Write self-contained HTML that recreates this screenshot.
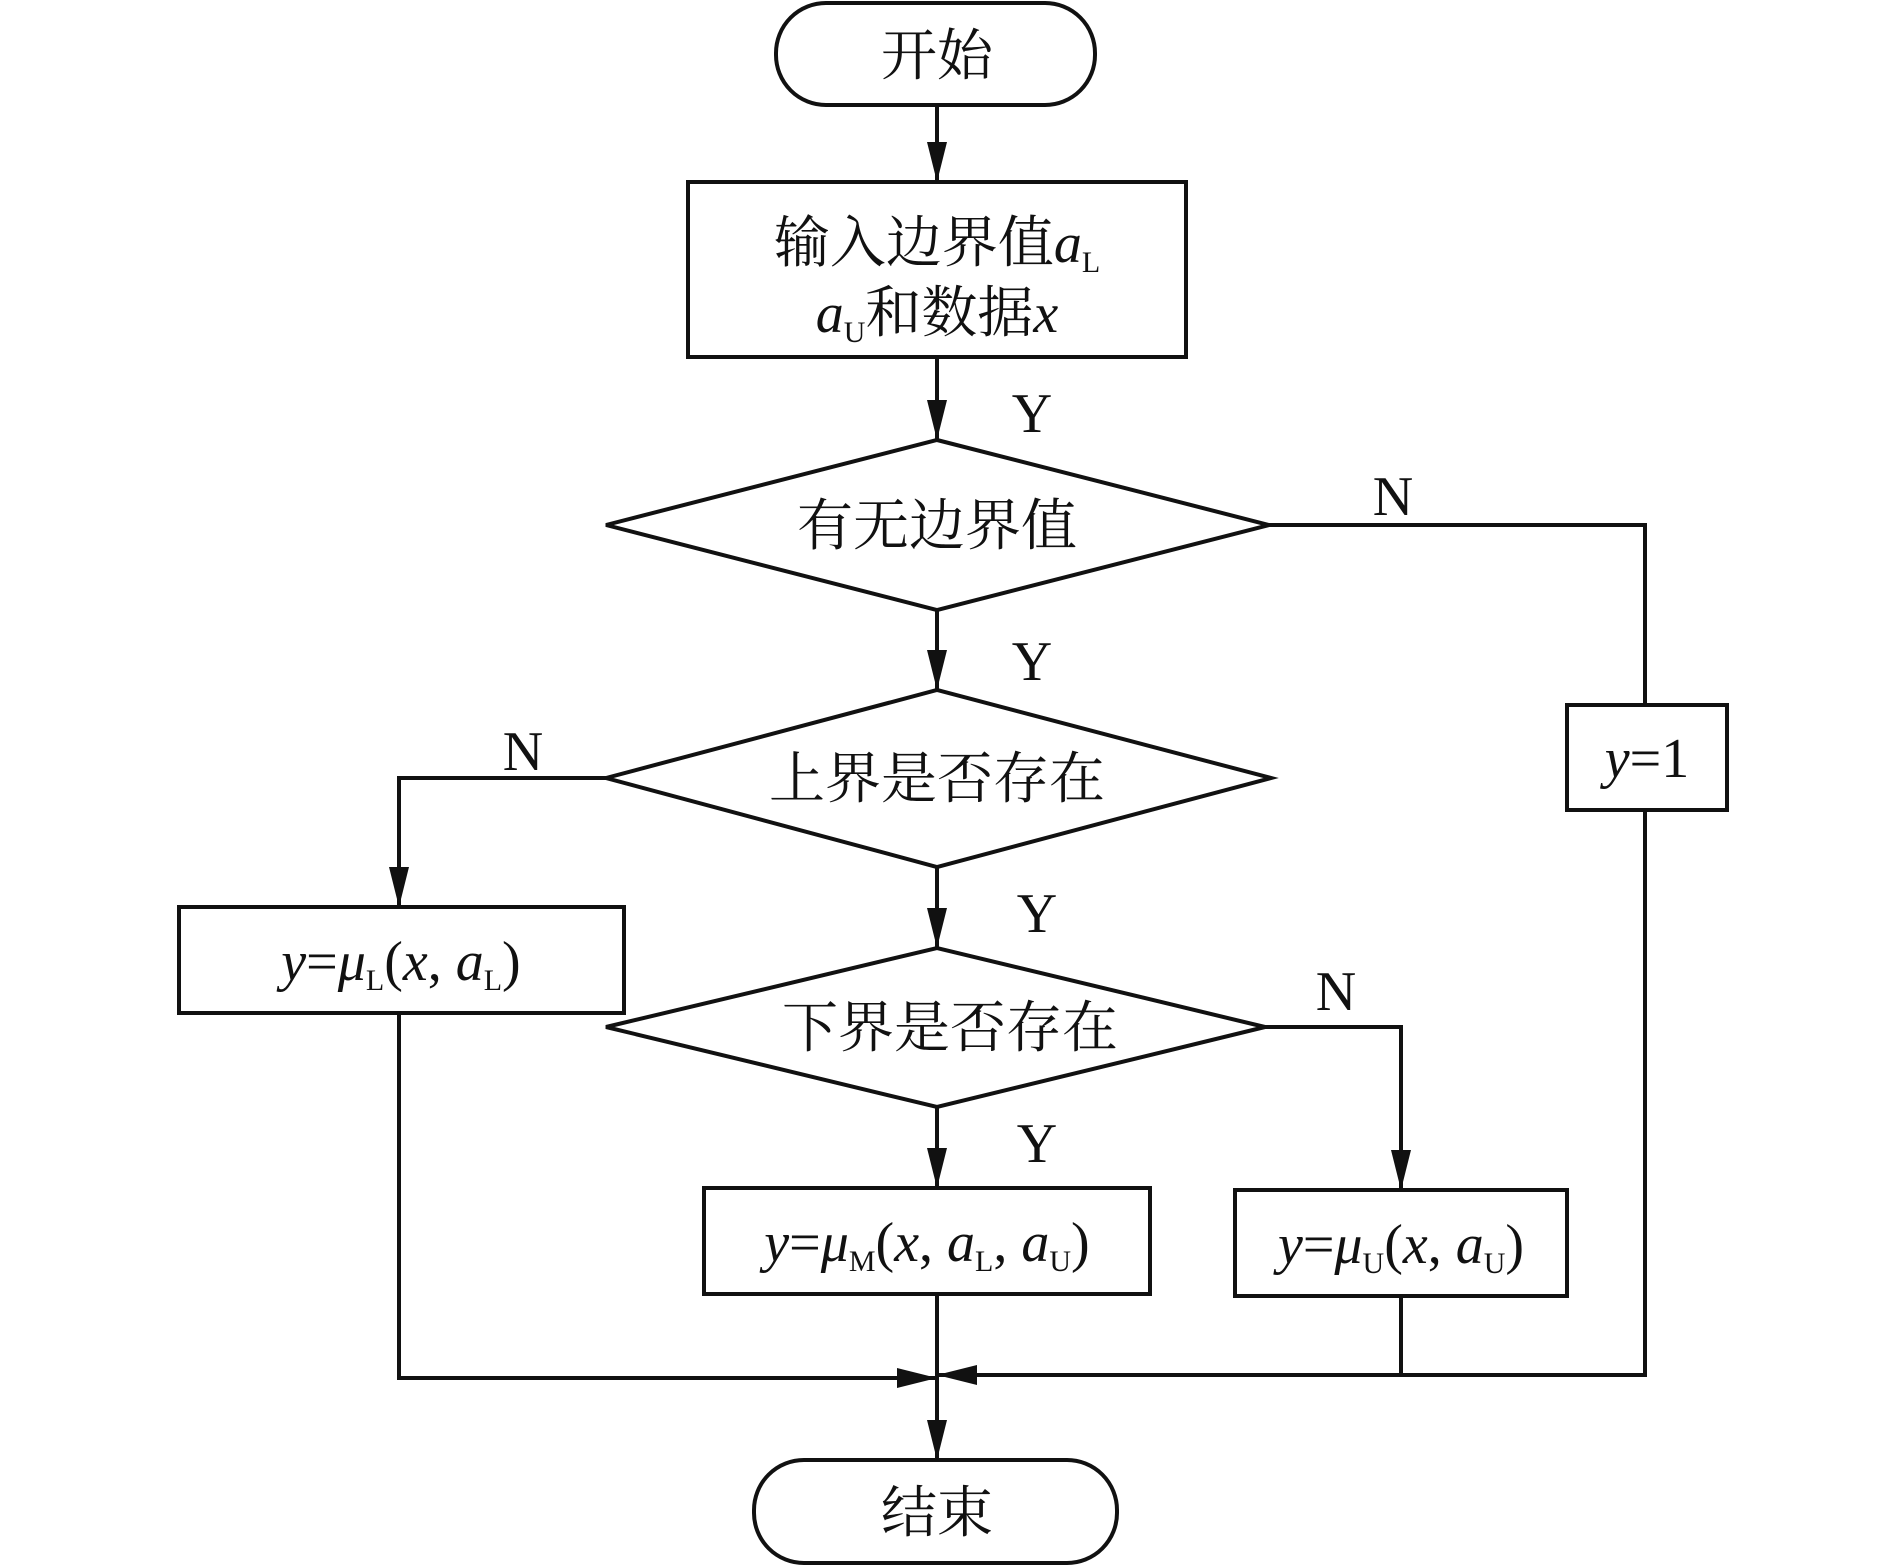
<!DOCTYPE html>
<html><head><meta charset="utf-8"><style>
html,body{margin:0;padding:0;background:#fff;}
svg{display:block;}
.c{font-family:"Liberation Serif","Noto Serif CJK SC",serif;font-size:56px;fill:#111;}
.m{font-family:"Liberation Serif",serif;font-size:56px;fill:#111;}
.i{font-style:italic;}
.s{font-size:30px;font-style:normal;}
</style></head><body>
<svg width="1889" height="1565" viewBox="0 0 1889 1565" xmlns="http://www.w3.org/2000/svg">
<defs><marker id="a" markerWidth="12" markerHeight="10" refX="12" refY="5" orient="auto" markerUnits="userSpaceOnUse" viewBox="0 0 12 10"><path d="M0,0 L12,5 L0,10 z" fill="#111"/></marker>
<marker id="b" markerWidth="40" markerHeight="20" refX="40" refY="10" orient="auto" markerUnits="userSpaceOnUse" viewBox="0 0 40 20"><path d="M0,0 L40,10 L0,20 z" fill="#111"/></marker></defs>
<g fill="none" stroke="#111" stroke-width="4">
<rect x="776" y="3" width="319" height="102" rx="50"/>
<rect x="688" y="182" width="498" height="175"/>
<polygon points="606,525 937,440 1269,525 937,610"/>
<polygon points="606,778 937,690 1271,778 937,867"/>
<polygon points="606,1027 937,948 1265,1027 937,1107"/>
<rect x="1567" y="705" width="160" height="105"/>
<rect x="179" y="907" width="445" height="106"/>
<rect x="704" y="1188" width="446" height="106"/>
<rect x="1235" y="1190" width="332" height="106"/>
<rect x="754" y="1460" width="363" height="103" rx="50"/>
<line x1="937" y1="105" x2="937" y2="182" marker-end="url(#b)"/>
<line x1="937" y1="357" x2="937" y2="440" marker-end="url(#b)"/>
<line x1="937" y1="610" x2="937" y2="690" marker-end="url(#b)"/>
<line x1="937" y1="867" x2="937" y2="948" marker-end="url(#b)"/>
<line x1="937" y1="1107" x2="937" y2="1188" marker-end="url(#b)"/>
<polyline points="1269,525 1645,525 1645,705"/>
<polyline points="1645,810 1645,1375 937,1375" marker-end="url(#b)"/>
<polyline points="606,778 399,778 399,907" marker-end="url(#b)"/>
<polyline points="399,1013 399,1378 937,1378" marker-end="url(#b)"/>
<polyline points="1265,1027 1401,1027 1401,1190" marker-end="url(#b)"/>
<line x1="1401" y1="1296" x2="1401" y2="1375"/>
<line x1="937" y1="1294" x2="937" y2="1460" marker-end="url(#b)"/>
</g>
<text class="c" x="937" y="75" text-anchor="middle">开始</text>
<text class="c" x="937" y="262" text-anchor="middle">输入边界值<tspan class="i">a</tspan><tspan class="s" dy="10">L</tspan></text>
<text class="c" x="937" y="332" text-anchor="middle"><tspan class="i">a</tspan><tspan class="s" dy="10">U</tspan><tspan dy="-10">和数据</tspan><tspan class="i">x</tspan></text>
<text class="c" x="937" y="545" text-anchor="middle">有无边界值</text>
<text class="c" x="937" y="798" text-anchor="middle">上界是否存在</text>
<text class="c" x="950" y="1047" text-anchor="middle">下界是否存在</text>
<text class="m" x="1032" y="432" text-anchor="middle">Y</text>
<text class="m" x="1032" y="680" text-anchor="middle">Y</text>
<text class="m" x="1037" y="932" text-anchor="middle">Y</text>
<text class="m" x="1037" y="1162" text-anchor="middle">Y</text>
<text class="m" x="1393" y="515" text-anchor="middle">N</text>
<text class="m" x="523" y="770" text-anchor="middle">N</text>
<text class="m" x="1336" y="1010" text-anchor="middle">N</text>
<text class="m" x="1647" y="777" text-anchor="middle"><tspan class="i">y</tspan>=1</text>
<text class="m" x="401" y="980" text-anchor="middle"><tspan class="i">y</tspan>=<tspan class="i">μ</tspan><tspan class="s" dy="10">L</tspan><tspan dy="-10">(</tspan><tspan class="i">x</tspan>, <tspan class="i">a</tspan><tspan class="s" dy="10">L</tspan><tspan dy="-10">)</tspan></text>
<text class="m" x="927" y="1261" text-anchor="middle"><tspan class="i">y</tspan>=<tspan class="i">μ</tspan><tspan class="s" dy="10">M</tspan><tspan dy="-10">(</tspan><tspan class="i">x</tspan>, <tspan class="i">a</tspan><tspan class="s" dy="10">L</tspan><tspan dy="-10">, </tspan><tspan class="i">a</tspan><tspan class="s" dy="10">U</tspan><tspan dy="-10">)</tspan></text>
<text class="m" x="1401" y="1263" text-anchor="middle"><tspan class="i">y</tspan>=<tspan class="i">μ</tspan><tspan class="s" dy="10">U</tspan><tspan dy="-10">(</tspan><tspan class="i">x</tspan>, <tspan class="i">a</tspan><tspan class="s" dy="10">U</tspan><tspan dy="-10">)</tspan></text>
<text class="c" x="937" y="1532" text-anchor="middle">结束</text>
</svg>
</body></html>
